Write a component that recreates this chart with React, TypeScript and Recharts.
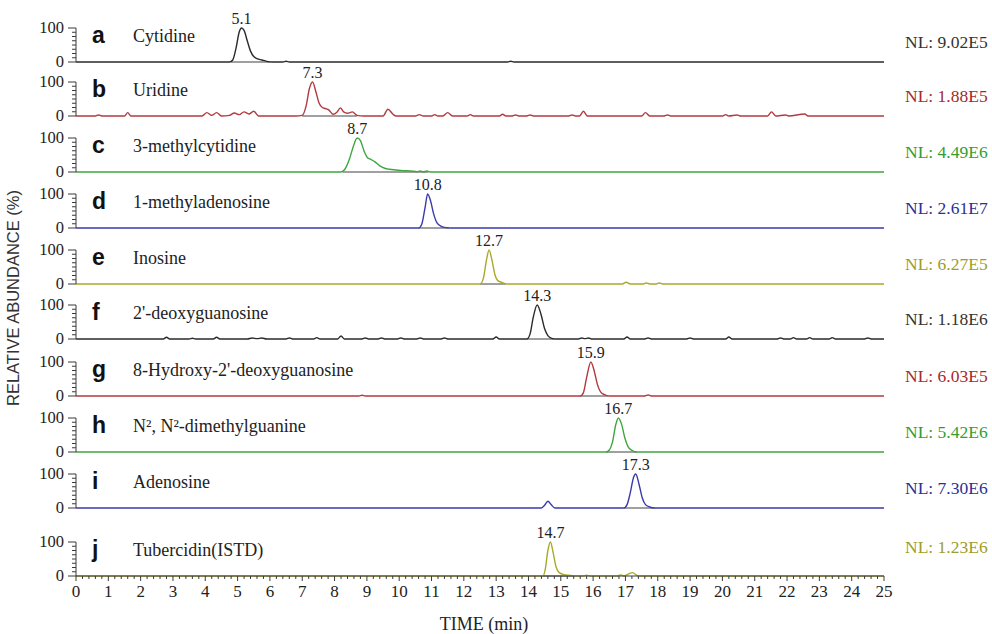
import { LineChart, Line, XAxis, YAxis, ReferenceDot, ReferenceLine } from "recharts";

type Pt = [number, number];

// retention time (min), relative abundance (%)
const cytidine: Pt[] = [[0,0],[4.75,0],[4.85,6],[4.95,40],[5.05,88],[5.12,100],[5.2,93],[5.3,62],[5.4,32],[5.5,16],[5.6,10],[5.75,6],[5.9,2],[6.05,0],[6.4,0],[6.5,2],[6.6,0],[13.35,0],[13.45,2],[13.55,0],[25,0]];
const uridine: Pt[] = [[0,0],[0.6,0],[0.7,3],[0.8,0],[1.5,0],[1.6,10],[1.7,0],[3.9,0],[4.05,10],[4.2,2],[4.35,10],[4.5,0],[4.75,2],[4.9,9],[5.05,4],[5.2,12],[5.35,6],[5.5,14],[5.65,0],[6.8,0],[7.0,2],[7.12,30],[7.22,80],[7.32,100],[7.42,72],[7.52,38],[7.62,25],[7.72,22],[7.82,18],[7.95,5],[8.08,12],[8.18,24],[8.28,12],[8.4,8],[8.55,12],[8.7,2],[8.9,0],[9.5,0],[9.65,20],[9.8,6],[9.9,0],[10.5,0],[10.62,4],[10.75,0],[11.0,0],[11.1,4],[11.2,0],[11.35,0],[11.5,10],[11.65,0],[12.1,0],[12.2,4],[12.3,0],[13.1,0],[13.2,5],[13.3,0],[13.5,0],[13.6,3],[13.7,0],[13.95,0],[14.05,3],[14.15,0],[15.25,0],[15.35,3],[15.45,0],[15.58,0],[15.7,14],[15.82,0],[17.5,0],[17.62,10],[17.75,0],[18.2,0],[18.3,3],[18.4,0],[20.0,0],[20.1,4],[20.2,0],[20.45,3],[20.55,0],[21.4,0],[21.52,12],[21.65,0],[21.95,3],[22.05,0],[22.55,6],[22.65,0],[25,0]];
const methylcytidine: Pt[] = [[0,0],[8.2,0],[8.32,8],[8.45,35],[8.58,75],[8.7,100],[8.8,92],[8.92,60],[9.02,42],[9.12,37],[9.25,30],[9.4,18],[9.55,11],[9.7,8],[9.9,6],[10.1,4],[10.35,3],[10.55,1],[10.65,3],[10.75,0],[10.85,3],[10.95,0],[25,0]];
const methyladenosine: Pt[] = [[0,0],[10.6,0],[10.7,12],[10.8,60],[10.88,100],[10.97,80],[11.07,40],[11.17,15],[11.3,5],[11.45,1],[11.6,0],[25,0]];
const inosine: Pt[] = [[0,0],[12.5,0],[12.6,15],[12.7,70],[12.78,100],[12.87,70],[12.96,28],[13.05,10],[13.2,4],[13.35,0],[16.9,0],[17.02,5],[17.15,0],[17.55,0],[17.65,3],[17.75,0],[17.95,0],[18.05,3],[18.15,0],[25,0]];
const deoxyguanosine: Pt[] = [[0,0],[2.7,0],[2.8,5],[2.9,0],[3.5,0],[3.6,2],[3.7,0],[4.25,0],[4.35,5],[4.45,0],[5.3,0],[5.45,3],[5.6,1],[5.75,3],[5.9,0],[6.5,0],[6.6,3],[6.7,0],[7.35,0],[7.45,4],[7.55,0],[8.1,0],[8.2,9],[8.3,0],[8.85,0],[8.95,3],[9.05,0],[9.35,0],[9.45,3],[9.55,0],[9.95,0],[10.05,3],[10.15,0],[10.55,0],[10.65,3],[10.75,0],[11.3,0],[11.4,3],[11.5,0],[12.9,0],[13.0,6],[13.1,0],[13.95,0],[14.05,15],[14.15,65],[14.27,100],[14.38,75],[14.5,30],[14.6,10],[14.72,2],[14.85,0],[15.55,0],[15.65,3],[15.75,1],[15.85,3],[15.95,0],[16.95,0],[17.05,6],[17.15,0],[17.6,0],[17.7,3],[17.8,0],[18.9,0],[19.0,3],[19.1,0],[20.1,0],[20.2,6],[20.3,0],[21.7,0],[21.8,3],[21.9,0],[22.1,0],[22.2,4],[22.3,0],[22.6,0],[22.7,4],[22.8,0],[23.3,0],[23.4,4],[23.5,0],[24.4,0],[24.5,3],[24.6,0],[25,0]];
const hydroxyDeoxyguanosine: Pt[] = [[0,0],[8.75,0],[8.85,2],[8.95,0],[15.6,0],[15.7,10],[15.8,55],[15.93,100],[16.03,75],[16.13,35],[16.23,12],[16.35,4],[16.5,0],[17.6,0],[17.7,3],[17.8,0],[25,0]];
const dimethylguanine: Pt[] = [[0,0],[16.4,0],[16.5,6],[16.6,30],[16.7,80],[16.78,100],[16.88,82],[16.98,42],[17.08,16],[17.2,5],[17.35,0],[25,0]];
const adenosine: Pt[] = [[0,0],[14.4,0],[14.5,8],[14.6,20],[14.7,10],[14.82,0],[16.95,0],[17.05,10],[17.15,45],[17.25,90],[17.32,100],[17.42,70],[17.52,30],[17.62,10],[17.75,3],[17.9,0],[25,0]];
const tubercidin: Pt[] = [[0,0],[14.45,0],[14.52,20],[14.6,75],[14.68,100],[14.76,70],[14.85,28],[14.95,10],[15.1,4],[15.3,2],[15.45,0],[15.7,0],[15.8,2],[15.9,0],[16.75,0],[16.85,3],[16.95,0],[17.1,6],[17.22,10],[17.35,2],[17.45,0],[25,0]];

const traces = [cytidine, uridine, methylcytidine, methyladenosine, inosine, deoxyguanosine, hydroxyDeoxyguanosine, dimethylguanine, adenosine, tubercidin];
const letters = ["a", "b", "c", "d", "e", "f", "g", "h", "i", "j"];
const compounds = ["Cytidine", "Uridine", "3-methylcytidine", "1-methyladenosine", "Inosine", "2'-deoxyguanosine", "8-Hydroxy-2'-deoxyguanosine", "N², N²-dimethylguanine", "Adenosine", "Tubercidin(ISTD)"];
const peakLabels = ["5.1", "7.3", "8.7", "10.8", "12.7", "14.3", "15.9", "16.7", "17.3", "14.7"];
const normLevels = ["NL: 9.02E5", "NL: 1.88E5", "NL: 4.49E6", "NL: 2.61E7", "NL: 6.27E5", "NL: 1.18E6", "NL: 6.03E5", "NL: 5.42E6", "NL: 7.30E6", "NL: 1.23E6"];
// foot of the main peak, drawn as the grey integration baseline
const peakStart = [4.8, 7.0, 8.25, 10.6, 12.5, 13.95, 15.6, 16.4, 16.95, 14.45];
const peakEnd = [6.0, 8.7, 10.9, 11.55, 13.3, 14.8, 16.45, 17.35, 17.9, 15.4];

const lineColors = ["#2a2a2a", "#b23a40", "#3fa63f", "#3a3aac", "#a9a92c"];
const textColors = ["#333333", "#a52a2e", "#2f9e2f", "#2e2e96", "#9d9d2a"];

const yTicks = [0, 12.5, 25, 37.5, 50, 62.5, 75, 87.5, 100];
const xTicks = Array.from({ length: 126 }, (_, i) => i / 5);

const SERIF = "'Liberation Serif', 'Times New Roman', serif";
const SANS = "'Liberation Sans', Arial, sans-serif";
const AXIS = "#3a3a3a";

const PLOT_LEFT = 76;
const PLOT_RIGHT = 884;
// pixel row of each panel's zero line
const BASELINES = [62, 116, 172, 228, 284, 339, 396, 452, 508, 576];
const PLOT_H = 34;
const MARGIN_TOP = 18;

function YTick(props: any) {
  const { x, y, payload } = props;
  const v = payload.value;
  const major = v === 0 || v === 100;
  return (
    <g>
      <line x1={x - (major ? 8 : 4)} x2={x} y1={y} y2={y} stroke={AXIS} strokeWidth={1} />
      {major && (
        <text x={x - 12} y={y} dy={5} textAnchor="end" fontSize={16.5} fontFamily={SERIF} fill="#222">
          {v}
        </text>
      )}
    </g>
  );
}

function XTick(props: any) {
  const { x, y, payload } = props;
  const v = payload.value;
  const major = Math.abs(v - Math.round(v)) < 1e-6;
  return (
    <g>
      <line x1={x} x2={x} y1={y} y2={y + (major ? 5 : 3)} stroke={AXIS} strokeWidth={1} />
      {major && (
        <text x={x} y={y + 21} textAnchor="middle" fontSize={17} fontFamily={SERIF} fill="#222">
          {Math.round(v)}
        </text>
      )}
    </g>
  );
}

function Panel({ index }: { index: number }) {
  const last = index === traces.length - 1;
  const rows = traces[index].map(([t, v]) => ({ t, v }));
  const apex = rows.reduce((a, b) => (b.v > a.v ? b : a));
  const color = lineColors[index % 5];
  const height = MARGIN_TOP + PLOT_H + (last ? 34 : 8);
  const top = BASELINES[index] - PLOT_H - MARGIN_TOP;

  return (
    <div style={{ position: "absolute", left: 0, top, width: 992, height }}>
      <LineChart
        width={992}
        height={height}
        data={rows}
        margin={{ top: MARGIN_TOP, right: 992 - PLOT_RIGHT, bottom: last ? 0 : 8, left: PLOT_LEFT - 60 }}
      >
        <XAxis
          type="number"
          dataKey="t"
          domain={[0, 25]}
          ticks={xTicks}
          interval={0}
          hide={!last}
          height={34}
          tickLine={false}
          tickSize={0}
          tickMargin={0}
          axisLine={{ stroke: AXIS }}
          tick={<XTick />}
        />
        <YAxis
          type="number"
          domain={[0, 100]}
          ticks={yTicks}
          interval={0}
          width={60}
          tickLine={false}
          tickSize={0}
          tickMargin={0}
          axisLine={{ stroke: AXIS }}
          tick={<YTick />}
        />
        <ReferenceLine
          segment={[{ x: peakStart[index], y: 0 }, { x: peakEnd[index], y: 0 }]}
          stroke="#a0a0a0"
          strokeWidth={2}
        />
        <Line
          type="monotone"
          dataKey="v"
          stroke={color}
          strokeWidth={1.4}
          dot={false}
          isAnimationActive={false}
        />
        <ReferenceDot
          x={apex.t}
          y={100}
          r={0}
          fill="none"
          stroke="none"
          label={{ value: peakLabels[index], position: "top", offset: 4, fontSize: 16, fontFamily: SERIF, fill: "#222" }}
        />
      </LineChart>
      <div
        style={{
          position: "absolute",
          left: 92,
          top: MARGIN_TOP - 4,
          fontFamily: SANS,
          fontWeight: 700,
          fontSize: 23,
          lineHeight: "23px",
          color: "#111",
        }}
      >
        {letters[index]}
      </div>
      <div
        style={{
          position: "absolute",
          left: 133,
          top: MARGIN_TOP - 1,
          fontFamily: SERIF,
          fontSize: 18,
          lineHeight: "18px",
          color: "#222",
          whiteSpace: "nowrap",
        }}
      >
        {compounds[index]}
      </div>
      <div
        style={{
          position: "absolute",
          left: 905,
          top: MARGIN_TOP + (last ? -4 : 5),
          fontFamily: SERIF,
          fontSize: 17.5,
          lineHeight: "18px",
          color: textColors[index % 5],
          whiteSpace: "nowrap",
        }}
      >
        {normLevels[index]}
      </div>
    </div>
  );
}

export default function App() {
  return (
    <div style={{ position: "absolute", left: 0, top: 0, width: 992, height: 634, background: "#fff", overflow: "hidden" }}>
      {traces.map((_, i) => (
        <Panel key={i} index={i} />
      ))}
      <div
        style={{
          position: "absolute",
          left: 13,
          top: 298,
          transform: "translate(-50%, -50%) rotate(-90deg)",
          fontFamily: SANS,
          fontSize: 16.5,
          color: "#333",
          whiteSpace: "nowrap",
        }}
      >
        RELATIVE ABUNDANCE (%)
      </div>
      <div
        style={{
          position: "absolute",
          left: 484,
          top: 624,
          transform: "translate(-50%, -50%)",
          fontFamily: SERIF,
          fontSize: 18,
          color: "#222",
          whiteSpace: "nowrap",
        }}
      >
        TIME (min)
      </div>
    </div>
  );
}
